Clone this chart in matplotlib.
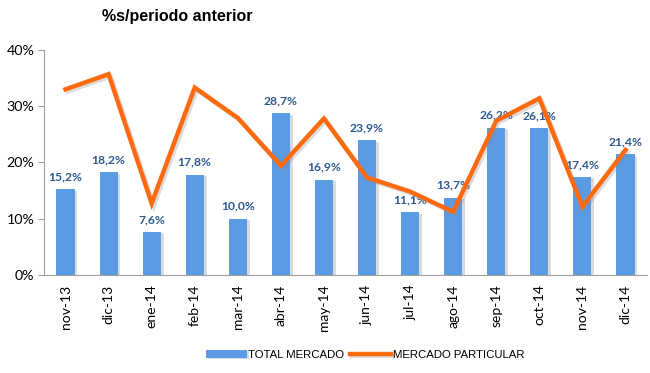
import matplotlib
matplotlib.use("Agg")
import matplotlib.pyplot as plt
import matplotlib.patheffects as pe
from matplotlib.ticker import FuncFormatter

categories = ["nov-13", "dic-13", "ene-14", "feb-14", "mar-14", "abr-14", "may-14",
              "jun-14", "jul-14", "ago-14", "sep-14", "oct-14", "nov-14", "dic-14"]
total_mercado = [15.2, 18.2, 7.6, 17.8, 10.0, 28.7, 16.9, 23.9, 11.1, 13.7, 26.2, 26.1, 17.4, 21.4]
mercado_particular = [33.0, 35.7, 12.7, 33.3, 27.9, 19.4, 27.8, 17.3, 14.8, 11.2, 27.4, 31.4, 12.1, 22.2]
yticks = [0, 10, 20, 30, 40]

plt.rcParams['font.family'] = ['Lato', 'DejaVu Sans']

fig = plt.figure(figsize=(6.5, 3.73), dpi=100)
ax = fig.add_axes([44/650, 1 - 274.7/373, (647-44)/650, (274.7-50)/373])

x = list(range(len(categories)))
bar_color = "#5B9BE3"
bars = ax.bar(x, total_mercado, width=0.42, color=bar_color, zorder=2,
              path_effects=[pe.SimplePatchShadow(offset=(2, -1), shadow_rgbFace="#999999", alpha=0.35), pe.Normal()])

for xi, v in zip(x, total_mercado):
    ax.annotate(f"{v:.1f}%".replace(".", ","), (xi, v), xytext=(0, 5), textcoords="offset points",
                ha="center", va="bottom", fontsize=8.7, fontweight="bold", color="#2E5A90", zorder=3)

line, = ax.plot(x, mercado_particular, color="#FF6A0E", lw=3.2, zorder=4, solid_joinstyle="miter",
                path_effects=[pe.SimpleLineShadow(offset=(1.5, -1.5), shadow_color="#888888", alpha=0.3), pe.Normal()])

ax.set_xlim(-0.5, len(categories) - 0.5)
ax.set_ylim(0, 40)
ax.set_yticks(yticks)
ax.yaxis.set_major_formatter(FuncFormatter(lambda v, p: f"{v:.0f}%"))
ax.set_xticks(x)
ax.set_xticklabels(categories, rotation=90, fontsize=10)
ax.tick_params(axis="y", labelsize=10.3, length=4, color="#A0A0A0", pad=3)
ax.tick_params(axis="x", length=0, pad=7)
for s in ["top", "right"]:
    ax.spines[s].set_visible(False)
ax.spines["left"].set_color("#A0A0A0")
ax.spines["bottom"].set_color("#A0A0A0")

fig.text(177/650, 1 - 17/373, "%s/periodo anterior", ha="center", va="center",
         fontsize=11.5, fontweight="bold", family=["Liberation Sans", "DejaVu Sans"])

leg = fig.legend([bars, line], ["TOTAL MERCADO", "MERCADO PARTICULAR"], loc="center",
                 bbox_to_anchor=(365/650, 1 - 355/373), ncol=2, frameon=False,
                 handlelength=3.6, handletextpad=0.15, columnspacing=0.5,
                 prop={"family": ["Liberation Sans", "DejaVu Sans"], "size": 8.2})

fig.savefig("out.png", dpi=100)
